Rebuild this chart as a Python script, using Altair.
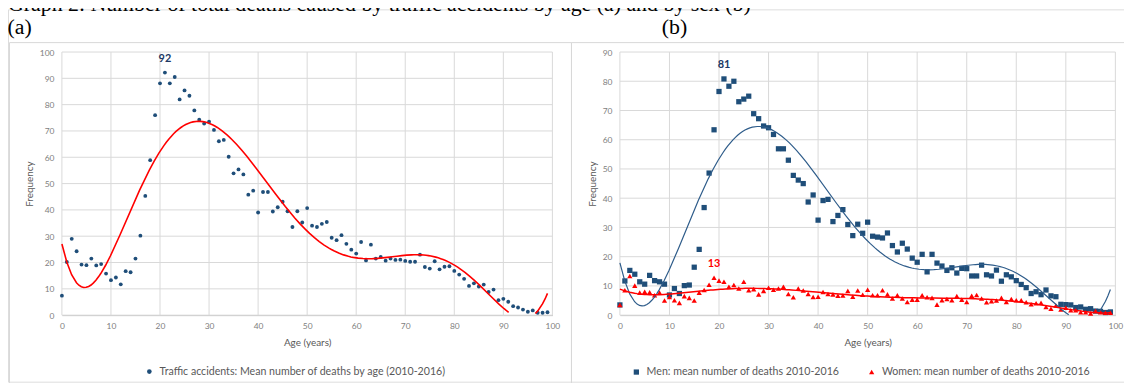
import altair as alt
import pandas as pd

# ---------------- data ----------------
ages = list(range(100))

total = [7.4, 20.2, 29.0, 24.3, 19.2, 19.0, 21.5, 18.9, 19.4, 15.8,
         13.3, 14.3, 11.7, 16.7, 16.3, 21.5, 30.2, 45.3, 58.9, 76.0,
         88.1, 92.2, 88.1, 90.5, 82.0, 85.4, 83.4, 77.8, 74.3, 72.8,
         73.5, 70.4, 66.1, 66.6, 60.2, 53.9, 55.4, 53.5, 45.8, 47.3,
         39.0, 46.8, 46.8, 39.4, 41.0, 43.1, 39.5, 33.5, 39.5, 35.2,
         40.7, 34.0, 33.5, 34.7, 35.4, 29.4, 28.5, 30.4, 27.1, 24.9,
         23.4, 27.8, 20.8, 26.8, 21.5, 22.1, 20.7, 21.5, 21.0, 21.1,
         20.6, 20.3, 20.3, 23.0, 18.3, 17.7, 20.5, 17.4, 18.4, 18.6,
         16.8, 15.4, 13.8, 11.1, 12.1, 10.9, 11.6, 8.8, 9.7, 5.7,
         6.2, 5.1, 3.4, 2.9, 2.1, 1.3, 1.8, 0.9, 0.9, 1.1]

men = [3.5, 11.7, 15.3, 14.0, 11.4, 10.6, 13.6, 11.8, 11.4, 10.6,
       6.9, 9.1, 7.4, 10.1, 10.3, 16.4, 22.5, 36.8, 48.6, 63.4,
       76.5, 80.8, 78.3, 80.0, 73.0, 73.9, 74.9, 68.9, 67.2, 64.7,
       64.1, 61.8, 56.9, 56.9, 53.0, 47.8, 46.2, 45.0, 38.7, 41.1,
       32.5, 39.2, 39.6, 32.0, 34.1, 36.1, 31.0, 27.2, 31.1, 28.0,
       31.8, 27.0, 26.7, 26.4, 28.1, 23.8, 21.6, 24.6, 22.6, 19.5,
       18.1, 20.8, 14.8, 20.8, 17.8, 16.8, 15.3, 16.2, 14.4, 16.0,
       15.9, 13.4, 13.4, 17.1, 13.8, 13.4, 15.4, 11.6, 13.8, 13.1,
       11.8, 10.5, 9.4, 7.4, 8.0, 7.0, 8.6, 6.6, 6.3, 3.7,
       3.6, 3.5, 2.6, 2.8, 2.0, 2.2, 1.4, 1.3, 0.9, 1.1]

women = [3.5, 8.5, 13.4, 10.1, 7.7, 8.0, 7.8, 6.8, 7.7, 5.0,
         6.2, 5.1, 4.2, 6.5, 5.9, 5.0, 7.7, 8.6, 10.4, 12.8,
         11.8, 11.4, 9.7, 10.3, 9.1, 11.4, 8.5, 8.9, 7.1, 8.3,
         9.4, 8.7, 9.1, 9.7, 7.2, 6.1, 9.1, 8.4, 7.2, 6.2,
         6.3, 7.9, 7.2, 7.1, 6.6, 6.7, 8.3, 6.3, 8.4, 7.0,
         8.7, 6.8, 6.8, 8.5, 7.1, 5.7, 6.8, 5.7, 4.5, 5.3,
         5.3, 6.8, 6.1, 5.9, 3.6, 5.1, 5.5, 5.1, 6.5, 5.3,
         4.5, 6.6, 6.9, 5.7, 4.4, 4.8, 5.0, 5.9, 4.5, 5.5,
         5.1, 5.1, 4.4, 3.7, 4.1, 4.2, 2.8, 2.2, 3.3, 1.9,
         2.5, 1.7, 1.7, 1.0, 1.0, 0.6, 1.4, 1.0, 0.8, 0.8]

x_ticks = list(range(0, 101, 10))
y_ticks_a = list(range(0, 101, 10))
y_ticks_b = list(range(0, 91, 10))

label_a = "Traffic accidents: Mean number of deaths by age (2010-2016)"
label_men = "Men: mean number of deaths 2010-2016"
label_women = "Women: mean number of deaths 2010-2016"

peak_age_a = [21]
peak_age_men = [21]
peak_age_women = [19]

title_line = "Graph 2: Number of total deaths caused by traffic accidents by age (a) and by sex (b)"

# ---------------- styling / layout ----------------
FONT = "Lato"
BLUE = "#1F4E79"
NAVY = "#203864"
RED = "#FF0000"
GRID = "#D9D9D9"
FRAME = "#D9D9D9"
TICK = "#808080"
TITLE_C = "#595959"

W, H = 1124, 375
AX = [54.3, 548.3]
BX = [616.3, 1115.3]
YR = [308, 43]

dfA = pd.DataFrame({"age": ages, "value": total, "series": [label_a] * len(ages)})
dfB = pd.DataFrame({"age": ages + ages, "value": men + women,
                    "series": [label_men] * len(ages) + [label_women] * len(ages)})
one = pd.DataFrame({"k": [0]})


def xscale(r):
    return alt.Scale(domain=[0, 100], range=r, nice=False, zero=False)


def yscale(top):
    return alt.Scale(domain=[0, top], range=YR, nice=False, zero=False)


def xaxis(rng):
    return alt.Axis(values=x_ticks, orient="bottom", title="Age (years)", grid=False,
                    ticks=False, tickSize=0, domain=True, domainColor="#BFBFBF",
                    labelFont=FONT, labelFontSize=8.5, labelColor=TICK, labelPadding=6,
                    labelFlush=False, offset=YR[0] - H,
                    titleFont=FONT, titleFontSize=10, titleFontWeight="normal",
                    titleColor=TITLE_C, titleX=(rng[0] + rng[1]) / 2, titleY=28,
                    titleBaseline="middle", titleAlign="center")


def yaxis(vals, off, tx):
    return alt.Axis(values=vals, orient="left", title="Frequency", grid=False,
                    ticks=False, tickSize=0, domain=False,
                    labelFont=FONT, labelFontSize=8.5, labelColor=TICK, labelPadding=8,
                    offset=off,
                    titleFont=FONT, titleFontSize=10, titleFontWeight="normal",
                    titleColor=TITLE_C, titleX=tx, titleY=(YR[0] + YR[1]) / 2,
                    titleAngle=270, titleBaseline="middle", titleAlign="center")


def panel(df, xr, ytop, yvals, yoff, ytx, point_layers, extra_layers):
    xs, ys = xscale(xr), yscale(ytop)
    xa, ya = xaxis(xr), yaxis(yvals, yoff, ytx)
    gh = alt.Chart(pd.DataFrame({"t": yvals})).mark_rule(color=GRID, strokeWidth=1).encode(
        y=alt.Y("t:Q", scale=ys, axis=ya),
        x=alt.XDatum(0, scale=xs, axis=xa), x2=alt.X2Datum(100))
    gv = alt.Chart(pd.DataFrame({"t": x_ticks})).mark_rule(color=GRID, strokeWidth=1).encode(
        x=alt.X("t:Q", scale=xs, axis=xa),
        y=alt.YDatum(0, scale=ys, axis=ya), y2=alt.Y2Datum(ytop))
    layers = [gh, gv]
    for lay in point_layers + extra_layers:
        layers.append(lay(xs, ys, xa, ya))
    return alt.layer(*layers)


LEG_FS = 10.7

legA = alt.Legend(orient="none", legendX=137, legendY=359.5, title=None,
                  labelFont=FONT, labelFontSize=LEG_FS, labelColor=TITLE_C, labelOffset=5,
                  labelLimit=600, symbolSize=22, symbolStrokeWidth=0, padding=0)


# ---- panel (a) ----
def pts_a(xs, ys, xa, ya):
    return alt.Chart(dfA).mark_point(filled=True, opacity=1, size=15).encode(
        x=alt.X("age:Q", scale=xs, axis=xa),
        y=alt.Y("value:Q", scale=ys, axis=ya),
        color=alt.Color("series:N", scale=alt.Scale(domain=[label_a], range=[BLUE]),
                        legend=legA),
        shape=alt.Shape("series:N", scale=alt.Scale(domain=[label_a], range=["circle"]),
                        legend=legA))


def trend(df, series, color, width):
    def f(xs, ys, xa, ya):
        c = alt.Chart(df)
        if series is not None:
            c = c.transform_filter(alt.datum.series == series)
        return c.transform_regression("age", "value", method="poly", order=6).transform_calculate(
            v="datum.value < 0 ? null : datum.value"
        ).mark_line(color=color, strokeWidth=width, invalid="break-paths-show-domains").encode(
            x=alt.X("age:Q", scale=xs, axis=xa),
            y=alt.Y("v:Q", scale=ys, axis=ya))
    return f


def peak(df, series, ages_sel, color):
    def f(xs, ys, xa, ya):
        c = alt.Chart(df)
        if series is not None:
            c = c.transform_filter(alt.datum.series == series)
        return c.transform_filter(
            alt.FieldOneOfPredicate(field="age", oneOf=ages_sel)
        ).transform_calculate(lab="format(datum.value, '.0f')").mark_text(
            font=FONT, fontSize=11, fontWeight="bold", color=color, dy=-14,
            baseline="middle", align="center").encode(
            x=alt.X("age:Q", scale=xs, axis=xa),
            y=alt.Y("value:Q", scale=ys, axis=ya),
            text="lab:N")
    return f


panelA = panel(dfA, AX, 100, y_ticks_a, -AX[0], 22 - AX[0], [pts_a],
               [trend(dfA, None, RED, 1.6), peak(dfA, None, peak_age_a, NAVY)])

# ---- panel (b) ----
legB = alt.Legend(orient="none", legendX=627.5, legendY=359.5, title=None, direction="horizontal",
                  labelFont=FONT, labelFontSize=LEG_FS, labelColor=TITLE_C, labelOffset=5,
                  labelLimit=600, symbolSize=28, symbolStrokeWidth=0, padding=0,
                  columnPadding=27)


def pts_b(xs, ys, xa, ya):
    return alt.Chart(dfB).mark_point(filled=True, opacity=1, size=28).encode(
        x=alt.X("age:Q", scale=xs, axis=xa),
        y=alt.Y("value:Q", scale=ys, axis=ya),
        color=alt.Color("series:N", scale=alt.Scale(domain=[label_men, label_women],
                                                     range=[BLUE, RED]), legend=legB),
        shape=alt.Shape("series:N", scale=alt.Scale(domain=[label_men, label_women],
                                                     range=["square", "triangle-up"]),
                        legend=legB))


panelB = panel(dfB, BX, 90, y_ticks_b, -BX[0], 589 - BX[0], [pts_b],
               [trend(dfB, label_men, "#2E5C8A", 1.2), trend(dfB, label_women, RED, 1.5),
                peak(dfB, label_men, peak_age_men, NAVY), peak(dfB, label_women, peak_age_women, RED)])

# ---- decorations ----
frames = [
    alt.Chart(one).mark_rect(fillOpacity=0, stroke=FRAME, strokeWidth=1).encode(
        x=alt.value(1.5), x2=alt.value(567.5), y=alt.value(33.5), y2=alt.value(400)),
    alt.Chart(one).mark_rect(fillOpacity=0, stroke=FRAME, strokeWidth=1).encode(
        x=alt.value(567.5), x2=alt.value(1140), y=alt.value(33.5), y2=alt.value(400)),
]
texts = [
    alt.Chart(one).mark_text(text=title_line, font="Liberation Serif", fontSize=22,
                             align="left", baseline="alphabetic", color="black").encode(
        x=alt.value(0), y=alt.value(1.5)),
    alt.Chart(one).mark_text(text="(a)", font="Liberation Serif", fontSize=22,
                             align="left", baseline="alphabetic", color="black").encode(
        x=alt.value(-0.5), y=alt.value(24.5)),
    alt.Chart(one).mark_text(text="(b)", font="Liberation Serif", fontSize=22,
                             align="left", baseline="alphabetic", color="black").encode(
        x=alt.value(658.5), y=alt.value(24.5)),
]

chart = alt.layer(*frames, *texts, panelA, panelB).resolve_scale(
    x="independent", y="independent", color="independent", shape="independent"
).properties(
    width=W, height=H, autosize=alt.AutoSizeParams(type="none"), padding=0
).configure_view(strokeOpacity=0).configure(background="white")

chart.save("out.html", embed_options={"renderer": "svg", "actions": False})
